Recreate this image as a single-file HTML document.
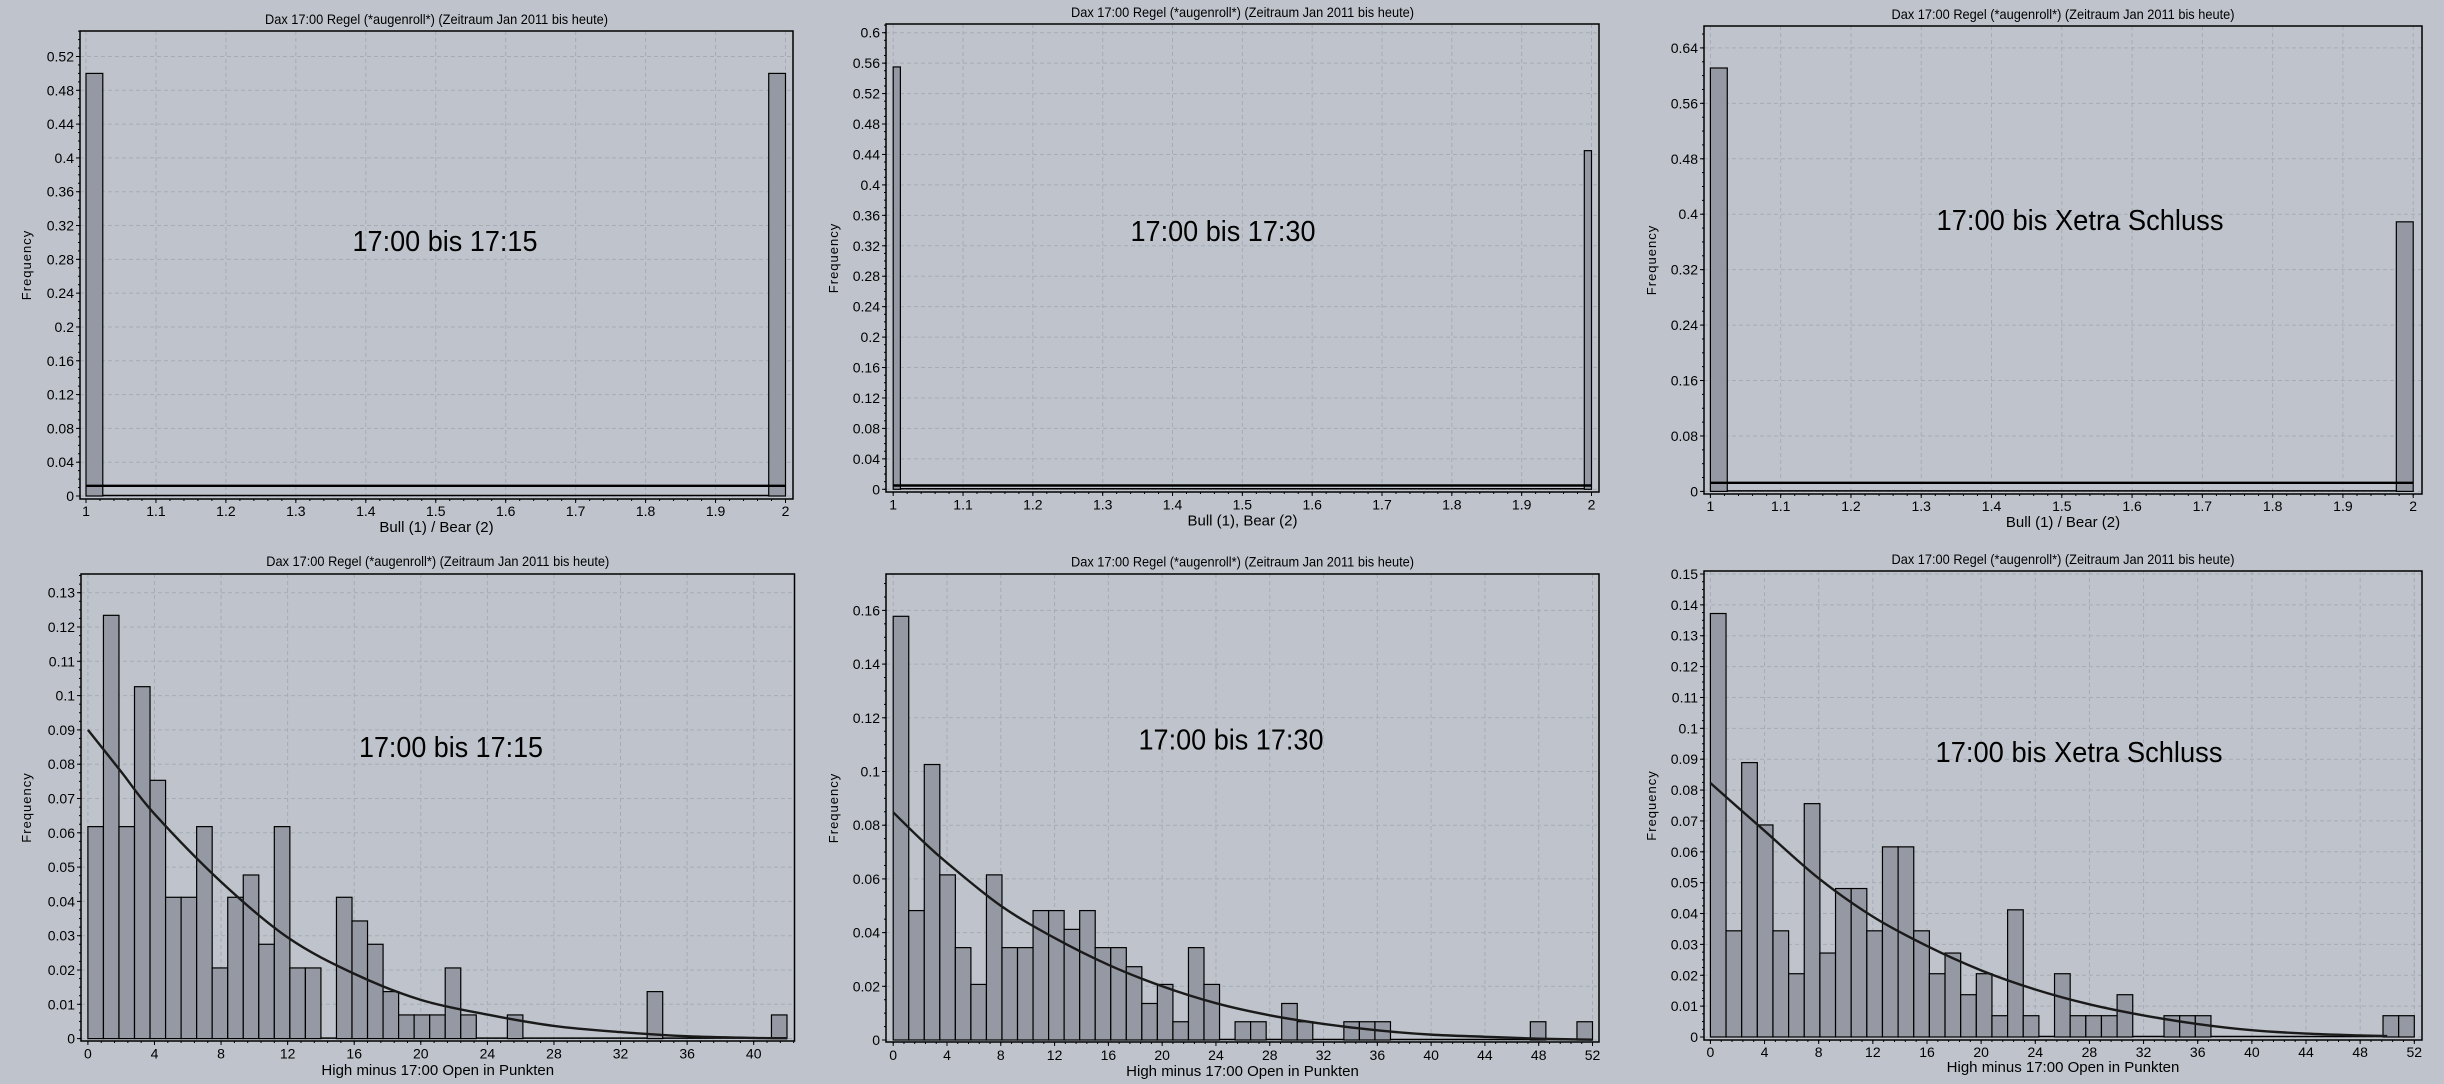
<!DOCTYPE html>
<html><head><meta charset="utf-8"><title>Dax 17:00 Regel Histograms</title>
<style>
html,body{margin:0;padding:0;background:#bfc4cc;}
svg{display:block;font-family:"Liberation Sans Narrow","Liberation Sans",sans-serif;}
</style></head>
<body>
<svg id="root" width="2444" height="1084" viewBox="0 0 2444 1084" xmlns="http://www.w3.org/2000/svg">
<rect x="0" y="0" width="2444" height="1084" fill="#bfc4cc"/>
</svg>
<script>
// ---- data ----
const titleText = 'Dax 17:00 Regel (*augenroll*) (Zeitraum Jan 2011 bis heute)';
// top row: bull/bear
const bbStarts = [1, 2];
const bbA = [0.5, 0.5];
const bbB = [0.555, 0.445];
const bbC = [0.611, 0.389];
const bbFitA = 0.012;
const bbFitB = 0.005;
const bbFitC = 0.0124;
const bbTicks = [1, 1.1, 1.2, 1.3, 1.4, 1.5, 1.6, 1.7, 1.8, 1.9, 2];
const bbTickLabels = ['1','1.1','1.2','1.3','1.4','1.5','1.6','1.7','1.8','1.9','2'];
const yTicksA = [0,0.04,0.08,0.12,0.16,0.2,0.24,0.28,0.32,0.36,0.4,0.44,0.48,0.52];
const yTicksB = [0,0.04,0.08,0.12,0.16,0.2,0.24,0.28,0.32,0.36,0.4,0.44,0.48,0.52,0.56,0.6];
const yTicksC = [0,0.08,0.16,0.24,0.32,0.4,0.48,0.56,0.64];
// bottom row: high minus open
const histD = [0.0618,0.1234,0.0618,0.1026,0.0753,0.0412,0.0412,0.0618,0.0206,0.0412,0.0477,0.0275,0.0618,0.0206,0.0206,0,0.0412,0.0343,0.0275,0.0137,0.0069,0.0069,0.0069,0.0206,0.0069,0,0,0.0069,0,0,0,0,0,0,0,0,0.0137,0,0,0,0,0,0,0,0.0069];
const histE = [0.1578,0.0482,0.1026,0.0615,0.0344,0.0207,0.0615,0.0344,0.0344,0.0482,0.0482,0.0412,0.0482,0.0344,0.0344,0.0273,0.0136,0.0207,0.0068,0.0344,0.0207,0,0.0068,0.0068,0,0.0136,0.0068,0,0,0.0068,0.0068,0.0068,0,0,0,0,0,0,0,0,0,0.0068,0,0,0.0068];
const histF = [0.1372,0.0344,0.0889,0.0687,0.0344,0.0205,0.0756,0.0272,0.0481,0.0481,0.0344,0.0616,0.0616,0.0344,0.0205,0.0272,0.0137,0.0205,0.0069,0.0412,0.0069,0,0.0205,0.0069,0.0069,0.0069,0.0137,0,0,0.0069,0.0069,0.0069,0,0,0,0,0,0,0,0,0,0,0,0.0069,0.0069];
const fitXD = [0,2,4,8,12,16,20,24,28,32,36,40,42];
const fitYD = [0.090,0.0778,0.0655,0.0457,0.0295,0.0189,0.0113,0.0070,0.0037,0.0019,0.0007,0.0002,0.0001];
const fitXE = [0,2,4,8,12,16,20,24,28,32,36,40,44,48,52];
const fitYE = [0.0848,0.075,0.066,0.050,0.038,0.028,0.020,0.0137,0.0092,0.006,0.0036,0.002,0.0012,0.0005,0.0001];
const fitXF = [0,2,4,8,12,16,20,24,28,32,36,40,44,48,50];
const fitYF = [0.0823,0.0745,0.0668,0.0514,0.039,0.0295,0.0216,0.0154,0.0106,0.007,0.0042,0.0022,0.0011,0.0005,0.0003];
const xTicksD = [0,4,8,12,16,20,24,28,32,36,40];
const xTicksEF = [0,4,8,12,16,20,24,28,32,36,40,44,48,52];
const yTicksD = [0,0.01,0.02,0.03,0.04,0.05,0.06,0.07,0.08,0.09,0.1,0.11,0.12,0.13];
const yTicksE = [0,0.02,0.04,0.06,0.08,0.1,0.12,0.14,0.16];
const yTicksF = [0,0.01,0.02,0.03,0.04,0.05,0.06,0.07,0.08,0.09,0.1,0.11,0.12,0.13,0.14,0.15];

const NS = 'http://www.w3.org/2000/svg';
const root = document.getElementById('root');
function mk(tag, attrs, parent) {
  const e = document.createElementNS(NS, tag);
  for (const k in attrs) e.setAttribute(k, attrs[k]);
  (parent || root).appendChild(e);
  return e;
}
function fmt(v) { return String(+v.toFixed(4)); }

function panel(p) {
  const g = mk('g', {});
  
  
  const xs = v => p.x0px + (v - p.x0) * (p.x1px - p.x0px) / (p.x1 - p.x0);
  const ys = v => p.y0px - v * (p.y0px - p.y1px) / p.y1;
  // grid
  p.yTicks.forEach(t => {
    const l = mk('line', {x1:p.L, x2:p.R, y1:ys(t), y2:ys(t), stroke:'#a6abb4', 'stroke-width':1, 'stroke-dasharray':'4,3'}, g);
    
    
  });
  p.xTicks.forEach(t => {
    const l = mk('line', {x1:xs(t), x2:xs(t), y1:p.T, y2:p.B, stroke:'#a6abb4', 'stroke-width':1, 'stroke-dasharray':'4,3'}, g);
    
    
  });
  if (p.zeroLine) {
    const z = mk('line', {x1:xs(p.x0), x2:p.starts ? xs(p.x1) : xs(p.x0 + p.values.length * p.binW), y1:ys(0) - 0.5, y2:ys(0) - 0.5, stroke:'#000', 'stroke-width':1.5}, g);
    
    
  }
  // bars
  const binW = p.binW;
  p.values.forEach((v, i) => {
    const x0 = p.starts ? p.starts[i] - (i === p.starts.length - 1 ? binW : 0) : p.x0 + i * binW;
    const xa = xs(x0), xb = xs(x0 + binW);
    const r = mk('rect', {x:xa, y:ys(v), width:xb - xa, height:Math.max(0, ys(0) - ys(v)), fill:'#9599a3', stroke:'#000', 'stroke-width':1.2}, g);
    
    
  });
  // fit
  if (p.fitX) {
    const pts = p.fitX.map((x, i) => [xs(x), ys(p.fitY[i])]);
    let d = 'M' + pts[0][0] + ',' + pts[0][1];
    for (let i = 0; i < pts.length - 1; i++) {
      const p0 = pts[Math.max(0, i - 1)], p1 = pts[i], p2 = pts[i + 1], p3 = pts[Math.min(pts.length - 1, i + 2)];
      const c1 = [p1[0] + (p2[0] - p0[0]) / 6, p1[1] + (p2[1] - p0[1]) / 6];
      const c2 = [p2[0] - (p3[0] - p1[0]) / 6, p2[1] - (p3[1] - p1[1]) / 6];
      d += ' C' + c1[0] + ',' + c1[1] + ' ' + c2[0] + ',' + c2[1] + ' ' + p2[0] + ',' + p2[1];
    }
    const c = mk('path', {d:d, fill:'none', stroke:'#1a1a1a', 'stroke-width':2.4}, g);
    
    
  }
  if (p.fitLevel !== undefined) {
    const f = mk('line', {x1:xs(p.x0), x2:xs(p.x1), y1:ys(p.fitLevel), y2:ys(p.fitLevel), stroke:'#000', 'stroke-width':2.4}, g);
    
    
  }
  // frame
  const fr = mk('rect', {x:p.L, y:p.T, width:p.R - p.L, height:p.B - p.T, fill:'none', stroke:'#000', 'stroke-width':1.5}, g);
  
  
  // y ticks
  const yStep = p.yTicks[1] - p.yTicks[0];
  for (let v = 0; v <= (p.y0px - p.T) / (p.y0px - p.y1px) * p.y1 + 1e-9; v += yStep / 4) {
    const yy = ys(v);
    if (yy < p.T) break;
    mk('line', {x1:p.L - 2, x2:p.L, y1:yy, y2:yy, stroke:'#000', 'stroke-width':1}, g);
  }
  p.yTicks.forEach(t => {
    mk('line', {x1:p.L - 4, x2:p.L, y1:ys(t), y2:ys(t), stroke:'#000', 'stroke-width':1}, g);
    const tx = mk('text', {x:p.L - 6, y:ys(t) + 5, 'text-anchor':'end', 'font-size':14, fill:'#000'}, g);
    tx.textContent = fmt(t);
    
    
  });
  // x ticks
  const xStep = p.xTicks[1] - p.xTicks[0];
  for (let v = p.x0; xs(v) <= p.R; v += xStep / 5) {
    mk('line', {x1:xs(v), x2:xs(v), y1:p.B, y2:p.B + 2, stroke:'#000', 'stroke-width':1}, g);
  }
  p.xTicks.forEach((t, i) => {
    mk('line', {x1:xs(t), x2:xs(t), y1:p.B, y2:p.B + 4, stroke:'#000', 'stroke-width':1}, g);
    const tx = mk('text', {x:xs(t), y:p.xLabY + 5, 'text-anchor':'middle', 'font-size':14, fill:'#000'}, g);
    tx.textContent = p.xTickLabels ? p.xTickLabels[i] : fmt(t);
    
    
  });
  // titles
  const cx = (p.L + p.R) / 2;
  const tt = mk('text', {x:cx, y:p.titleY + 5, 'text-anchor':'middle', 'font-size':14, textLength:343, lengthAdjust:'spacingAndGlyphs', fill:'#000'}, g);
  tt.textContent = titleText;
  
  
  const xt = mk('text', {x:cx, y:p.xTitleY + 5, 'text-anchor':'middle', 'font-size':15, fill:'#000'}, g);
  xt.textContent = p.xTitle;
  
  
  const yt = mk('text', {x:0, y:0, 'text-anchor':'middle', 'font-size':13, 'letter-spacing':'1', fill:'#000', transform:'translate(' + (p.yTitleX + 5) + ',' + ((p.T + p.B) / 2) + ') rotate(-90)', 'font-family':'"Liberation Sans",sans-serif'}, g);
  yt.textContent = 'Frequency';
  
  
  const an = mk('text', {x:p.annX, y:p.annY + 10, 'text-anchor':'middle', 'font-size':29, textLength:p.annW, lengthAdjust:'spacingAndGlyphs', fill:'#000', 'font-family':'"Liberation Sans",sans-serif'}, g);
  an.textContent = p.ann;
  
  
}

panel({name:'chart-bull-bear-1715', L:80, T:31, R:793, B:499, x0:1, x1:2, x0px:86, x1px:785.5, y0px:496, y1px:56.5, y1:0.52,
  values:bbA, starts:bbStarts, binW:0.024, fitLevel:bbFitA, zeroLine:true, xTicks:bbTicks, xTickLabels:bbTickLabels, yTicks:yTicksA,
  titleY:19, xLabY:511, xTitleY:527, yTitleX:26, xTitle:'Bull (1) / Bear (2)', ann:'17:00 bis 17:15', annX:445, annY:241, annW:185});
panel({name:'chart-bull-bear-1730', L:886, T:24, R:1599, B:492, x0:1, x1:2, x0px:893.2, x1px:1591.5, y0px:489.3, y1px:32.7, y1:0.6,
  values:bbB, starts:bbStarts, binW:0.0103, fitLevel:bbFitB, zeroLine:true, xTicks:bbTicks, xTickLabels:bbTickLabels, yTicks:yTicksB,
  titleY:12, xLabY:504.5, xTitleY:520.6, yTitleX:833, xTitle:'Bull (1), Bear (2)', ann:'17:00 bis 17:30', annX:1223, annY:231, annW:185});
panel({name:'chart-bull-bear-xetra', L:1704, T:26, R:2422, B:494, x0:1, x1:2, x0px:1710.4, x1px:2413.2, y0px:491.4, y1px:47.9, y1:0.64,
  values:bbC, starts:bbStarts, binW:0.024, fitLevel:bbFitC, zeroLine:true, xTicks:bbTicks, xTickLabels:bbTickLabels, yTicks:yTicksC,
  titleY:14, xLabY:506, xTitleY:522, yTitleX:1651, xTitle:'Bull (1) / Bear (2)', ann:'17:00 bis Xetra Schluss', annX:2080, annY:220, annW:287});
panel({name:'chart-high-minus-open-1715', L:81, T:574, R:794.5, B:1041, x0:0, x1:42, x0px:87.9, x1px:87.9 + 42 * 16.645, y0px:1038.6, y1px:592.7, y1:0.13,
  values:histD, binW:42 / 45, zeroLine:true, fitX:fitXD, fitY:fitYD, xTicks:xTicksD, yTicks:yTicksD,
  titleY:561, xLabY:1053.5, xTitleY:1070, yTitleX:26, xTitle:'High minus 17:00 Open in Punkten', ann:'17:00 bis 17:15', annX:451, annY:747, annW:184});
panel({name:'chart-high-minus-open-1730', L:886, T:574, R:1599, B:1042, x0:0, x1:52, x0px:893.2, x1px:1592.5, y0px:1040, y1px:610.4, y1:0.16,
  values:histE, binW:52 / 45, zeroLine:true, fitX:fitXE, fitY:fitYE, xTicks:xTicksEF, yTicks:yTicksE,
  titleY:561.5, xLabY:1055, xTitleY:1071, yTitleX:833, xTitle:'High minus 17:00 Open in Punkten', ann:'17:00 bis 17:30', annX:1231, annY:739.5, annW:185});
panel({name:'chart-high-minus-open-xetra', L:1704, T:571, R:2422, B:1040, x0:0, x1:52, x0px:1710.4, x1px:2414.3, y0px:1037, y1px:574, y1:0.15,
  values:histF, binW:52 / 45, zeroLine:true, fitX:fitXF, fitY:fitYF, xTicks:xTicksEF, yTicks:yTicksF,
  titleY:559, xLabY:1052, xTitleY:1067, yTitleX:1651, xTitle:'High minus 17:00 Open in Punkten', ann:'17:00 bis Xetra Schluss', annX:2079, annY:752, annW:287});
</script>
</body></html>
